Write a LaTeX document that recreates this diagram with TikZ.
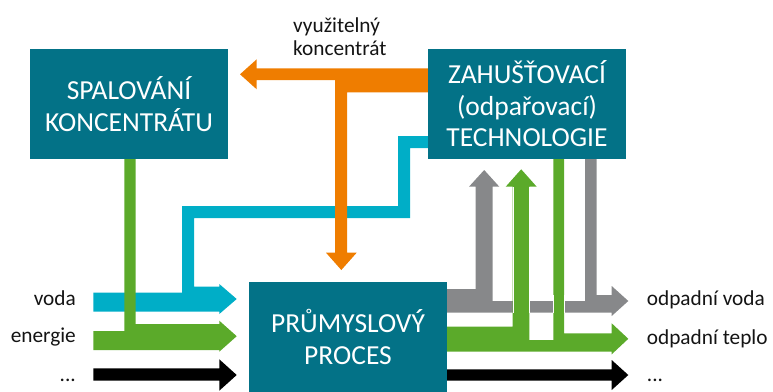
\documentclass[tikz,border=0pt]{standalone}
\usepackage{fontspec}
\setmainfont{Carlito}
\definecolor{boxteal}{RGB}{3,114,135}
\definecolor{flowcyan}{RGB}{0,174,199}
\definecolor{floworange}{RGB}{239,125,0}
\definecolor{flowgreen}{RGB}{91,170,42}
\definecolor{flowgrey}{RGB}{135,136,138}
\definecolor{labelink}{RGB}{20,20,20}
\begin{document}
\begin{tikzpicture}[x=1pt,y=-1pt,
  unitbox/.style={fill=boxteal, text=white, minimum width=198pt, minimum height=110pt,
    inner sep=0pt, align=center, font=\fontsize{27.5}{31.5}\selectfont},
  sidelabel/.style={text=labelink, inner sep=0pt, font=\fontsize{21.3}{23}\selectfont},
  flowline/.style={draw=white, line width=0.4pt}]
\useasboundingbox (0,0) rectangle (773,391);

% --- incoming water, with the recycled branch from the evaporator
\fill[flowcyan] (428,136) -- (398,136) -- (398,206) -- (182,206) -- (182,292.7)
  -- (93.3,292.7) -- (93.3,311.7) -- (219.3,311.7) -- (219.3,314) -- (236.7,299)
  -- (219.3,284) -- (219.3,286.7) -- (194,286.7) -- (194,218) -- (410,218)
  -- (410,148) -- (428,148) -- cycle;

% --- usable concentrate: to combustion and back to the process
\fill[floworange] (428,68.3) -- (256.7,68.3) -- (256.7,59.3) -- (240,74.3)
  -- (256.7,89.3) -- (256.7,80) -- (335,80) -- (335,252.7) -- (326,252.7)
  -- (341.3,270) -- (356.7,252.7) -- (347,252.7) -- (347,92.3) -- (428,92.3) -- cycle;

% --- incoming energy, with the heat recovered from combustion
\fill[flowgreen] (124.3,158) -- (124.3,331) -- (93.3,331) -- (93.3,350)
  -- (219.3,350) -- (219.3,351.7) -- (236.7,336.2) -- (219.3,320.7) -- (219.3,324)
  -- (135.7,324) -- (135.7,158) -- cycle;

% --- other inputs
\fill[black] (93.3,368.3) -- (219.3,368.3) -- (219.3,359.3) -- (236.7,375)
  -- (219.3,390.7) -- (219.3,380.7) -- (93.3,380.7) -- cycle;

% --- waste water, part of it sent to the evaporator
\fill[flowgrey] (447,289) -- (475.7,289) -- (475.7,186.7) -- (469,186.7) -- (484.2,170)
  -- (499.3,186.7) -- (492.5,186.7) -- (492.5,301) -- (585,301) -- (585,158)
  -- (596.7,158) -- (596.7,295) -- (611.7,295) -- (611.7,286) -- (628.3,301)
  -- (611.7,316) -- (611.7,312.7) -- (447,312.7) -- cycle;

% --- waste heat, part of it sent to the evaporator
\fill[flowgreen] (447,326.7) -- (512.7,326.7) -- (512.7,186.7) -- (505.7,186.7)
  -- (521.2,169.3) -- (536.7,186.7) -- (529.3,186.7) -- (529.3,340) -- (553.3,340)
  -- (553.3,158) -- (564,158) -- (564,333.3) -- (611.7,333.3) -- (611.7,323.3)
  -- (628.3,338.8) -- (611.7,354.3) -- (611.7,351.7) -- (447,351.7) -- cycle;
\draw[flowline] (512.7,312.7) -- (512.7,186.7) (529.3,312.7) -- (529.3,186.7)
  (553.3,312.7) -- (553.3,295) (564,312.7) -- (564,295);

% --- other outputs
\fill[black] (447,369.3) -- (611.7,369.3) -- (611.7,360) -- (628.3,375)
  -- (611.7,390) -- (611.7,380.7) -- (447,380.7) -- cycle;

% --- units
\node[unitbox] (burn) at (129,104) {SPALOVÁNÍ\\KONCENTRÁTU};
\node[unitbox] (evap) at (527,104) {ZAHUŠŤOVACÍ\\(odpařovací)\\TECHNOLOGIE};
\node[unitbox] (proc) at (348,337) {PRŮMYSLOVÝ\\PROCES};

% --- labels
\node[sidelabel, anchor=base west] (conc1) at (293,32.5) {využitelný};
\node[sidelabel, anchor=base west] (conc2) at (293,55) {koncentrát};
\node[sidelabel, anchor=base east] (inwater) at (76,305) {voda};
\node[sidelabel, anchor=base east] (inenergy) at (76,342.5) {energie};
\node[sidelabel, anchor=base east] (inother) at (76,381.5) {...};
\node[sidelabel, anchor=base west] (outwater) at (646.7,305) {odpadní voda};
\node[sidelabel, anchor=base west] (outheat) at (646.7,344.5) {odpadní teplo};
\node[sidelabel, anchor=base west] (outother) at (646.7,381) {...};
\end{tikzpicture}
\end{document}
